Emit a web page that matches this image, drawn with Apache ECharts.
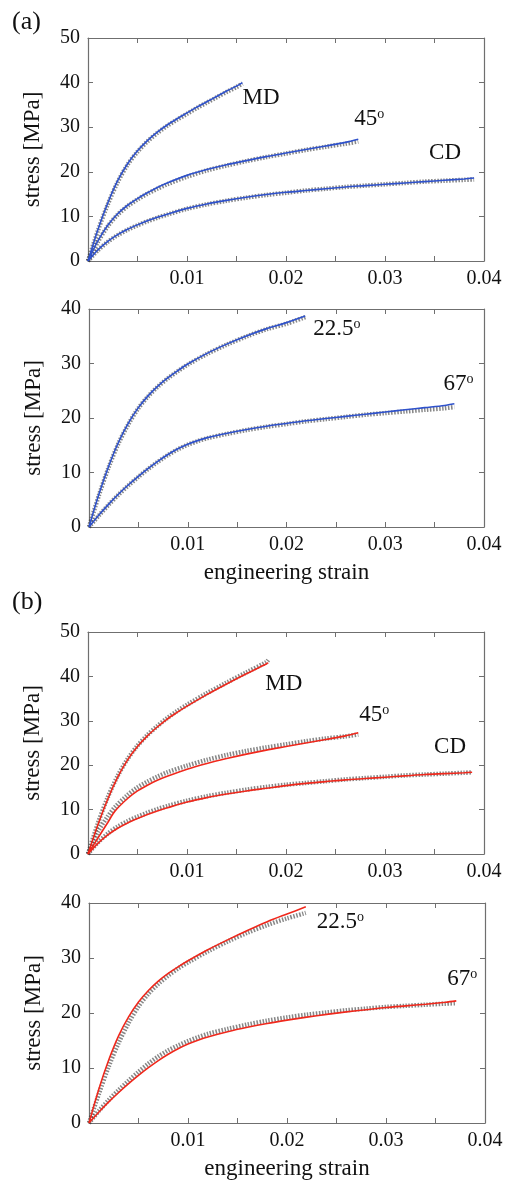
<!DOCTYPE html>
<html>
<head>
<meta charset="utf-8">
<script src="https://cdn.jsdelivr.net/npm/echarts@6/dist/echarts.min.js"></script>
<style>
html, body { margin: 0; padding: 0; background: #fff; }
#chart { width: 508px; height: 1182px; }
</style>
</head>
<body>
<div id="chart"></div>
<script>
// ---- (a) upper panel : MD, 45o, CD ----
var strainMD_a = [0, 0.001, 0.002, 0.003, 0.004, 0.005, 0.006, 0.007, 0.008, 0.009, 0.010, 0.011, 0.012, 0.013, 0.014, 0.015, 0.0156];
var fitMD_a    = [0, 7.0, 13.0, 18.0, 21.8, 24.7, 27.0, 28.9, 30.5, 31.9, 33.2, 34.5, 35.7, 36.9, 38.1, 39.2, 40.0];
var expMD_a    = [0, 6.8, 12.7, 17.7, 21.6, 24.5, 26.8, 28.7, 30.3, 31.7, 33.0, 34.3, 35.5, 36.7, 37.9, 39.0, 39.8];

var strain45_a = [0, 0.001, 0.002, 0.003, 0.004, 0.005, 0.006, 0.007, 0.008, 0.010, 0.012, 0.014, 0.016, 0.018, 0.020, 0.022, 0.024, 0.026, 0.0273];
var fit45_a    = [0, 4.5, 8.0, 10.6, 12.5, 14.0, 15.3, 16.5, 17.5, 19.2, 20.5, 21.6, 22.5, 23.4, 24.2, 25.0, 25.8, 26.6, 27.3];
var exp45_a    = [0, 4.3, 7.8, 10.4, 12.3, 13.8, 15.1, 16.2, 17.2, 18.9, 20.3, 21.4, 22.4, 23.3, 24.1, 24.9, 25.6, 26.3, 26.8];

var strainCD_a = [0, 0.001, 0.002, 0.003, 0.004, 0.005, 0.006, 0.007, 0.008, 0.010, 0.012, 0.014, 0.016, 0.018, 0.020, 0.022, 0.024, 0.026, 0.028, 0.030, 0.032, 0.034, 0.036, 0.038, 0.039];
var fitCD_a    = [0, 2.5, 4.4, 5.9, 7.1, 8.1, 9.0, 9.8, 10.5, 11.8, 12.8, 13.6, 14.3, 14.9, 15.4, 15.8, 16.2, 16.6, 16.9, 17.2, 17.5, 17.8, 18.1, 18.4, 18.6];
var expCD_a    = [0, 2.4, 4.3, 5.8, 7.0, 8.0, 8.9, 9.7, 10.4, 11.7, 12.7, 13.5, 14.2, 14.8, 15.3, 15.8, 16.2, 16.6, 16.9, 17.2, 17.5, 17.8, 18.0, 18.2, 18.3];

// ---- (a) lower panel : 22.5o, 67o ----
var strain225_a = [0, 0.001, 0.002, 0.003, 0.004, 0.005, 0.006, 0.007, 0.008, 0.009, 0.010, 0.012, 0.014, 0.016, 0.018, 0.020, 0.0219];
var fit225_a    = [0, 6.0, 11.2, 15.6, 19.1, 21.9, 24.1, 25.9, 27.4, 28.7, 29.9, 31.9, 33.6, 35.1, 36.4, 37.5, 38.7];
var exp225_a    = [0, 5.8, 11.0, 15.4, 18.9, 21.8, 24.0, 25.8, 27.3, 28.6, 29.8, 31.8, 33.5, 35.0, 36.3, 37.3, 38.5];

var strain67_a = [0, 0.001, 0.002, 0.003, 0.004, 0.005, 0.006, 0.007, 0.008, 0.009, 0.010, 0.011, 0.012, 0.014, 0.016, 0.018, 0.020, 0.022, 0.024, 0.026, 0.028, 0.030, 0.032, 0.034, 0.036, 0.037];
var fit67_a    = [0, 2.2, 4.2, 6.05, 7.75, 9.3, 10.75, 12.1, 13.3, 14.35, 15.2, 15.85, 16.4, 17.2, 17.9, 18.5, 19.0, 19.5, 19.9, 20.3, 20.7, 21.1, 21.5, 21.9, 22.3, 22.6];
var exp67_a    = [0, 2.1, 4.1, 5.95, 7.65, 9.2, 10.65, 12.0, 13.2, 14.25, 15.1, 15.75, 16.3, 17.1, 17.8, 18.4, 18.9, 19.4, 19.8, 20.2, 20.6, 20.9, 21.2, 21.5, 21.8, 22.0];

// ---- (b) upper panel : MD, 45o, CD ----
var strainMD_b = [0, 0.001, 0.002, 0.003, 0.004, 0.005, 0.006, 0.007, 0.008, 0.009, 0.010, 0.012, 0.014, 0.016, 0.018, 0.0182];
var fitMD_b    = [0, 6.6, 12.4, 17.3, 21.2, 24.2, 26.6, 28.6, 30.4, 31.9, 33.3, 35.9, 38.3, 40.6, 42.8, 43.1];
var expMD_b    = [0, 6.9, 12.8, 17.6, 21.4, 24.4, 26.8, 28.8, 30.6, 32.2, 33.6, 36.2, 38.6, 40.9, 43.2, 43.7];

var strain45_b = [0, 0.001, 0.002, 0.0027, 0.004, 0.005, 0.006, 0.007, 0.008, 0.010, 0.012, 0.014, 0.016, 0.018, 0.020, 0.022, 0.024, 0.026, 0.0273];
var fit45_b    = [0, 3.6, 7.1, 9.6, 12.5, 14.2, 15.5, 16.6, 17.5, 19.1, 20.4, 21.5, 22.5, 23.4, 24.2, 25.0, 25.8, 26.6, 27.3];
var exp45_b    = [0, 5.0, 8.5, 10.5, 13.3, 15.0, 16.3, 17.4, 18.4, 19.9, 21.2, 22.3, 23.2, 24.0, 24.7, 25.4, 26.0, 26.5, 26.9];

var strainCD_b = [0, 0.001, 0.002, 0.003, 0.004, 0.005, 0.006, 0.007, 0.008, 0.010, 0.012, 0.014, 0.016, 0.018, 0.020, 0.022, 0.024, 0.026, 0.028, 0.030, 0.032, 0.034, 0.036, 0.038, 0.0388];
var fitCD_b    = [0, 2.4, 4.3, 5.8, 7.0, 8.0, 8.9, 9.7, 10.4, 11.7, 12.7, 13.5, 14.2, 14.8, 15.4, 15.9, 16.3, 16.7, 17.0, 17.3, 17.6, 17.9, 18.1, 18.3, 18.4];
var expCD_b    = [0, 2.6, 4.6, 6.2, 7.4, 8.4, 9.3, 10.1, 10.8, 12.0, 13.0, 13.8, 14.5, 15.1, 15.6, 16.0, 16.4, 16.8, 17.1, 17.4, 17.7, 17.9, 18.1, 18.3, 18.4];

// ---- (b) lower panel : 22.5o, 67o ----
var strain225_b = [0, 0.001, 0.002, 0.003, 0.004, 0.005, 0.006, 0.007, 0.008, 0.009, 0.010, 0.012, 0.014, 0.016, 0.018, 0.020, 0.0219];
var fit225_b    = [0, 6.2, 11.5, 15.9, 19.3, 22.0, 24.1, 25.8, 27.2, 28.4, 29.5, 31.5, 33.3, 35.0, 36.6, 38.0, 39.3];
var exp225_b    = [0, 5.3, 10.3, 14.6, 18.2, 21.2, 23.5, 25.3, 26.8, 28.1, 29.2, 31.2, 33.0, 34.6, 36.0, 37.2, 38.2];

var strain67_b = [0, 0.001, 0.002, 0.003, 0.004, 0.005, 0.006, 0.007, 0.008, 0.009, 0.010, 0.011, 0.012, 0.014, 0.016, 0.018, 0.020, 0.022, 0.024, 0.026, 0.028, 0.030, 0.032, 0.034, 0.036, 0.0371];
var fit67_b    = [0, 2.0, 3.85, 5.55, 7.15, 8.65, 10.05, 11.35, 12.5, 13.5, 14.35, 15.05, 15.65, 16.6, 17.4, 18.1, 18.7, 19.25, 19.75, 20.2, 20.6, 21.0, 21.3, 21.6, 21.95, 22.2];
var exp67_b    = [0, 2.2, 4.2, 6.0, 7.7, 9.3, 10.8, 12.1, 13.2, 14.1, 14.9, 15.6, 16.2, 17.1, 17.9, 18.6, 19.2, 19.7, 20.1, 20.5, 20.8, 21.1, 21.3, 21.5, 21.7, 21.8];

// axis ranges
var strainMax = 0.04, strainStep = 0.005;
var stressMax = [50, 40, 50, 40];
var stressStep = 10;

var myChart = echarts.init(document.getElementById('chart'));
var FONT = '"Liberation Serif", "Times New Roman", serif';
var BLUE = '#2f52cc', RED = '#f0281c', GRAY = 'rgba(55,55,55,0.6)', FRAME = '#6f6f6f';

function pairs(xs, ys) {
    var out = [];
    for (var i = 0; i < xs.length; i++) out.push([xs[i], ys[i]]);
    return out;
}

var grids = [
    { left: 88, top: 38, width: 396, height: 223 },
    { left: 89, top: 309, width: 395, height: 218 },
    { left: 88, top: 632, width: 396, height: 222 },
    { left: 89, top: 903, width: 396, height: 220 }
];

var frameLine = { show: true, onZero: false, lineStyle: { color: FRAME, width: 1.2 } };
var frameTick = { show: true, inside: true, length: 5, lineStyle: { color: FRAME } };

var xAxes = [], yAxes = [];
for (var g = 0; g < 4; g++) {
    var showName = (g === 1 || g === 3);
    // bottom x axis with labels
    xAxes.push({
        gridIndex: g, type: 'value', position: 'bottom',
        min: 0, max: strainMax, interval: strainStep,
        name: showName ? 'engineering strain' : '',
        nameLocation: 'middle', nameGap: 34,
        nameTextStyle: { fontFamily: FONT, fontSize: 23, color: '#111' },
        axisLine: frameLine, axisTick: frameTick,
        splitLine: { show: false },
        axisLabel: {
            margin: 8, fontFamily: FONT, fontSize: 20, color: '#111',
            formatter: function (v) {
                var k = Math.round(v * 1000);
                return (k > 0 && k % 10 === 0) ? (k / 1000).toFixed(2) : '';
            }
        }
    });
    // top x axis: frame + ticks only
    xAxes.push({
        gridIndex: g, type: 'value', position: 'top',
        min: 0, max: strainMax, interval: strainStep,
        axisLine: frameLine, axisTick: frameTick,
        splitLine: { show: false }, axisLabel: { show: false }
    });
    // left y axis with labels
    yAxes.push({
        gridIndex: g, type: 'value', position: 'left',
        min: 0, max: stressMax[g], interval: stressStep,
        name: 'stress [MPa]', nameLocation: 'middle', nameGap: 44,
        nameTextStyle: { fontFamily: FONT, fontSize: 23, color: '#111' },
        axisLine: frameLine, axisTick: frameTick,
        splitLine: { show: false },
        axisLabel: { margin: 8, fontFamily: FONT, fontSize: 20, color: '#111' }
    });
    // right y axis: frame + ticks only
    yAxes.push({
        gridIndex: g, type: 'value', position: 'right',
        min: 0, max: stressMax[g], interval: stressStep,
        axisLine: frameLine, axisTick: frameTick,
        splitLine: { show: false }, axisLabel: { show: false }
    });
}

var labelRich = {
    sup: { fontFamily: FONT, fontSize: 14, color: '#111', verticalAlign: 'top', padding: [0, 0, 8, 0] }
};

function measured(g, xs, ys) {
    return {
        type: 'line', xAxisIndex: 2 * g, yAxisIndex: 2 * g,
        data: pairs(xs, ys), showSymbol: false, smooth: 0.3, silent: true,
        lineStyle: { color: GRAY, width: 4.5, type: [1.5, 1.5] }, z: 2
    };
}
function fitted(g, xs, ys, color, text, offset) {
    return {
        type: 'line', xAxisIndex: 2 * g, yAxisIndex: 2 * g,
        data: pairs(xs, ys), showSymbol: false, smooth: 0.3, silent: true,
        lineStyle: { color: color, width: 1.6 }, z: 3,
        endLabel: {
            show: true, formatter: text, distance: 0, offset: offset,
            fontFamily: FONT, fontSize: 23, color: '#111', rich: labelRich
        }
    };
}

var series = [
    measured(0, strainMD_a, expMD_a), fitted(0, strainMD_a, fitMD_a, BLUE, 'MD', [0, 15]),
    measured(0, strain45_a, exp45_a), fitted(0, strain45_a, fit45_a, BLUE, '45{sup|o}', [-4, -20]),
    measured(0, strainCD_a, expCD_a), fitted(0, strainCD_a, fitCD_a, BLUE, 'CD', [-45, -25]),

    measured(1, strain225_a, exp225_a), fitted(1, strain225_a, fit225_a, BLUE, '22.5{sup|o}', [8, 13]),
    measured(1, strain67_a, exp67_a), fitted(1, strain67_a, fit67_a, BLUE, '67{sup|o}', [-11, -20]),

    measured(2, strainMD_b, expMD_b), fitted(2, strainMD_b, fitMD_b, RED, 'MD', [-3, 21]),
    measured(2, strain45_b, exp45_b), fitted(2, strain45_b, fit45_b, RED, '45{sup|o}', [1, -18]),
    measured(2, strainCD_b, expCD_b), fitted(2, strainCD_b, fitCD_b, RED, 'CD', [-38, -25]),

    measured(3, strain225_b, exp225_b), fitted(3, strain225_b, fit225_b, RED, '22.5{sup|o}', [11, 15]),
    measured(3, strain67_b, exp67_b), fitted(3, strain67_b, fit67_b, RED, '67{sup|o}', [-9, -22])
];

var option = {
    backgroundColor: '#fff',
    animation: false,
    title: [
        { text: '(a)', left: 12, top: 9, padding: 0, textStyle: { fontFamily: FONT, fontSize: 26, fontWeight: 'normal', color: '#111' } },
        { text: '(b)', left: 12, top: 589, padding: 0, textStyle: { fontFamily: FONT, fontSize: 26, fontWeight: 'normal', color: '#111' } }
    ],
    grid: grids,
    xAxis: xAxes,
    yAxis: yAxes,
    series: series
};

myChart.setOption(option);
</script>
</body>
</html>
